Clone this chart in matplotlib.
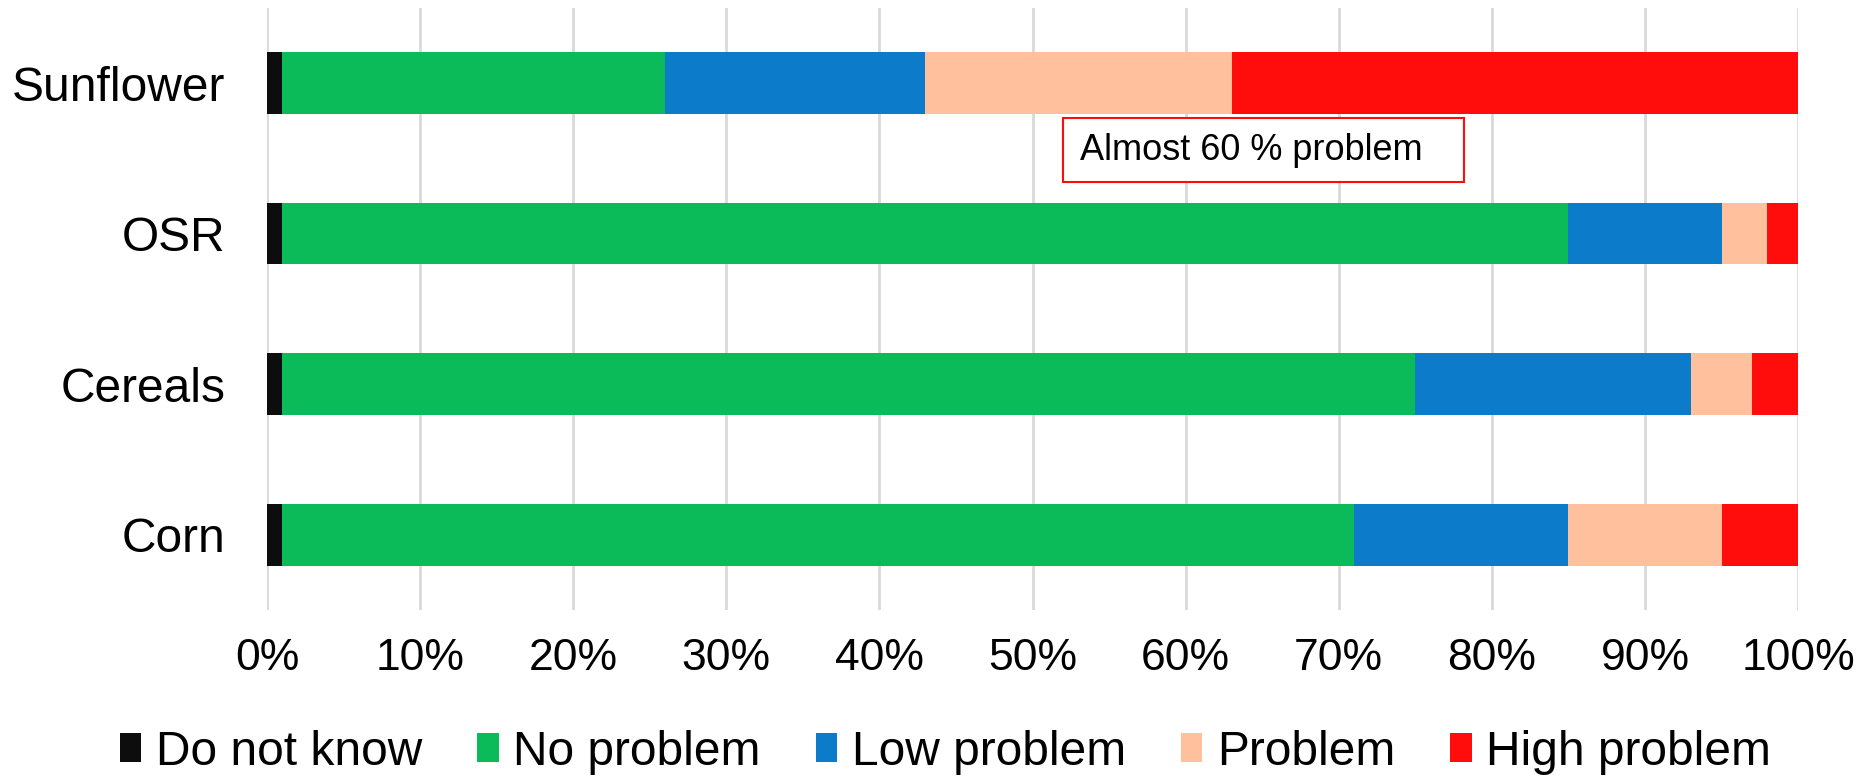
import numpy as np
import matplotlib.pyplot as plt
from matplotlib.patches import Rectangle

plt.rcParams['font.family'] = ['Liberation Sans', 'DejaVu Sans']

# Данные (в процентах)
crops = ['Corn', 'Cereals', 'OSR', 'Sunflower']
series = ['Do not know', 'No problem', 'Low problem', 'Problem', 'High problem']
do_not_know = [1, 1, 1, 1]
no_problem = [70, 74, 84, 25]
low_problem = [14, 18, 10, 17]
problem = [10, 4, 3, 20]
high_problem = [5, 3, 2, 37]
colors = ['#0d0d0d', '#0bba59', '#0b7bca', '#ffc09e', '#ff0d0d']

fig = plt.figure(figsize=(18.72, 7.77), dpi=100)
ax = fig.add_axes([0.1426, 0.215, 0.8179, 0.775])

y = np.arange(len(crops))
left = np.zeros(len(crops))
for name, vals, c in zip(series,
                         [do_not_know, no_problem, low_problem, problem, high_problem],
                         colors):
    vals = np.array(vals, dtype=float)
    ax.barh(y, vals, left=left, height=0.41, color=c, label=name, zorder=3)
    left += vals

ax.set_xlim(0, 100)
ax.set_ylim(-0.5, 3.5)
ax.set_xticks(np.arange(0, 101, 10))
ax.set_xticklabels([f'{v}%' for v in range(0, 101, 10)], fontsize=32)
ax.set_yticks(y)
ax.set_yticklabels(crops, fontsize=34.5)
ax.tick_params(axis='both', length=0)
ax.tick_params(axis='x', pad=20)
ax.tick_params(axis='y', pad=30)
ax.grid(axis='x', color='#d9d9d9', linewidth=2, zorder=0)
for s in ax.spines.values():
    s.set_visible(False)

# Аннотация
ax.add_patch(Rectangle((52.0, 2.34), 26.2, 0.43, facecolor='white', edgecolor='#ff0d0d',
                       linewidth=1.5, zorder=4))
ax.text(53.1, 2.555, 'Almost 60 % problem', fontsize=26, va='center', ha='left', zorder=5)

fig.legend(loc='center', bbox_to_anchor=(0.505, 0.032), ncol=5, frameon=False, fontsize=34.5,
           handlelength=0.45, handleheight=0.55, handletextpad=0.3, columnspacing=1.15)

fig.savefig('out.png', dpi=100)
